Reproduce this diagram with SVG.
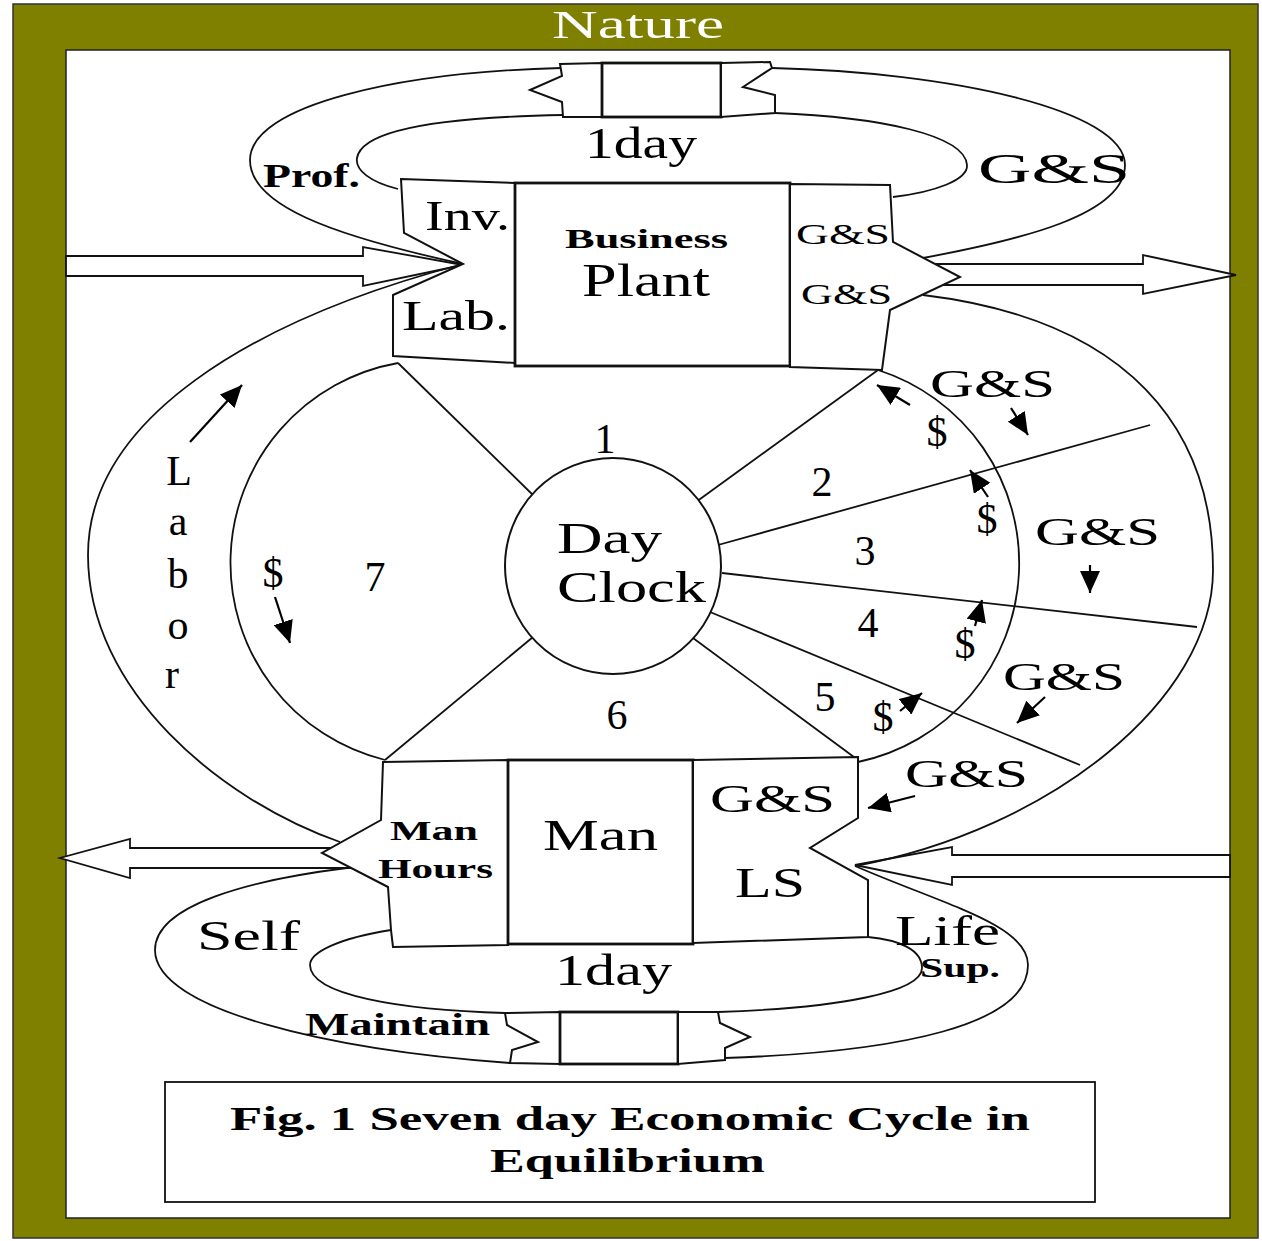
<svg xmlns="http://www.w3.org/2000/svg" width="1262" height="1241" viewBox="0 0 1262 1241">
<defs>
<style>
.ln{fill:none;stroke:#111;stroke-width:1.8}
.bx{fill:#fff;stroke:#111;stroke-width:2}
.bxb{fill:#fff;stroke:#111;stroke-width:2.8}
.ar{fill:#fff;stroke:#111;stroke-width:1.8}
.t{font-family:"Liberation Serif","Times New Roman",serif;fill:#000}
.b{font-weight:bold}
.sa{fill:none;stroke:#000;stroke-width:2.2;marker-end:url(#ah)}
</style>
<marker id="ah" markerUnits="userSpaceOnUse" markerWidth="24" markerHeight="20" refX="22" refY="10" orient="auto">
<path d="M0,0 L22,10 L0,20 Z" fill="#000"/>
</marker>
</defs>
<rect x="0" y="0" width="1262" height="1241" fill="#fff"/>
<rect x="13" y="4" width="1245" height="1234" fill="#808000" stroke="#333" stroke-width="1.5"/>
<rect x="66" y="50" width="1164" height="1168" fill="#fff" stroke="#222" stroke-width="1.5"/>
<text class="t" x="552" y="38" font-size="40" fill="#fff" style="fill:#fff" textLength="172" lengthAdjust="spacingAndGlyphs">Nature</text>

<g id="flows">
<polygon class="ar" points="66,256 363,256 363,247 463,265 363,286 363,276 66,276"/>
<polygon class="ar" points="920,264 1143,264 1143,255 1236,275 1143,294 1143,285 920,285"/>
<polygon class="ar" points="350,848 130,848 130,839 60,858 130,878 130,868 350,868"/>
<polygon class="ar" points="1230,855 952,855 952,847 855,865 952,885 952,877 1230,877"/>
</g>

<g id="connectors">
<path class="ln" d="M463,264 C330,235 250,205 250,160 C250,105 400,72 561,68"/>
<path class="ln" d="M772,68 C950,72 1125,110 1125,165 C1125,215 1020,240 923,258"/>
<path class="ln" d="M398,189 C370,182 355,170 357,158 C362,128 450,117 563,115"/>
<path class="ln" d="M775,113 C880,117 965,135 967,165 C968,180 935,192 893,197"/>
<path class="ln" d="M347,868 C250,880 155,905 155,950 C155,1010 330,1050 510,1063"/>
<path class="ln" d="M391,930 C340,938 310,952 310,965 C310,995 400,1010 505,1013"/>
<path class="ln" d="M718,1012 C840,1008 922,992 922,968 C922,950 900,940 868,937"/>
<path class="ln" d="M855,866 C945,905 1028,925 1028,965 C1028,1025 900,1052 725,1058"/>
<path class="ln" d="M463,264 C250,320 88,420 88,555 C88,690 220,800 340,842"/>
<path class="ln" d="M923,295 C1130,320 1213,430 1213,570 C1213,700 1050,830 855,866"/>
<path class="ln" d="M398,363 A203,203 0 0 0 385,760"/>
<path class="ln" d="M878,370 A203,203 0 0 1 858,762"/>
<line class="ln" x1="398" y1="363" x2="536" y2="498"/>
<line class="ln" x1="878" y1="370" x2="696" y2="502"/>
<line class="ln" x1="1150" y1="425" x2="718" y2="545"/>
<line class="ln" x1="1197" y1="627" x2="722" y2="573"/>
<line class="ln" x1="1080" y1="765" x2="710" y2="612"/>
<line class="ln" x1="858" y1="760" x2="693" y2="638"/>
<line class="ln" x1="385" y1="760" x2="533" y2="637"/>
<line class="sa" x1="190" y1="442" x2="242" y2="385"/>
<line class="sa" x1="275" y1="597" x2="290" y2="643"/>
<line class="sa" x1="1011" y1="408" x2="1028" y2="435"/>
<line class="sa" x1="910" y1="405" x2="877" y2="385"/>
<line class="sa" x1="988" y1="497" x2="970" y2="470"/>
<line class="sa" x1="1090" y1="565" x2="1090" y2="593"/>
<line class="sa" x1="975" y1="626" x2="982" y2="600"/>
<line class="sa" x1="1045" y1="697" x2="1017" y2="723"/>
<line class="sa" x1="900" y1="711" x2="922" y2="693"/>
<line class="sa" x1="915" y1="796" x2="868" y2="808"/>
</g>

<g id="top-chain">
<polygon class="bx" points="560,64 602,63 602,117 563,117 562,102 530,90 562,76"/>
<rect class="bxb" x="602" y="63" width="119" height="54"/>
<polygon class="bx" points="721,63 770,62 772,68 743,87 775,95 775,113 721,117"/>
</g>

<g id="bottom-chain">
<polygon class="bx" points="505,1013 560,1012 560,1064 510,1063 512,1050 538,1042 507,1025"/>
<rect class="bxb" x="560" y="1012" width="118" height="52"/>
<polygon class="bx" points="678,1012 718,1012 720,1023 750,1037 725,1048 725,1060 678,1064"/>
</g>

<g id="business-plant">
<polygon class="bx" points="401,179 515,183 515,363 393,356 393,295 463,264 404,233"/>
<rect class="bxb" x="515" y="183" width="275" height="183"/>
<polygon class="bx" points="790,184 890,185 893,242 960,277 890,310 882,370 790,367"/>
<text class="t" x="425" y="230" font-size="42" textLength="85" lengthAdjust="spacingAndGlyphs">Inv.</text>
<text class="t" x="402" y="330" font-size="42" textLength="108" lengthAdjust="spacingAndGlyphs">Lab.</text>
<text class="t b" x="565" y="248" font-size="28" textLength="163" lengthAdjust="spacingAndGlyphs">Business</text>
<text class="t" x="582" y="296" font-size="46" textLength="128" lengthAdjust="spacingAndGlyphs">Plant</text>
<text class="t" x="796" y="244" font-size="30" textLength="94" lengthAdjust="spacingAndGlyphs">G&amp;S</text>
<text class="t" x="801" y="304" font-size="30" textLength="91" lengthAdjust="spacingAndGlyphs">G&amp;S</text>
</g>

<g id="man">
<polygon class="bx" points="383,762 508,760 508,945 393,947 391,930 388,887 322,853 381,820"/>
<rect class="bxb" x="508" y="760" width="185" height="184"/>
<polygon class="bx" points="693,760 858,757 858,818 810,848 868,880 868,937 693,943"/>
<text class="t b" x="390" y="840" font-size="28" textLength="88" lengthAdjust="spacingAndGlyphs">Man</text>
<text class="t b" x="378" y="878" font-size="28" textLength="115" lengthAdjust="spacingAndGlyphs">Hours</text>
<text class="t" x="543" y="850" font-size="44" textLength="115" lengthAdjust="spacingAndGlyphs">Man</text>
<text class="t" x="710" y="812" font-size="40" textLength="125" lengthAdjust="spacingAndGlyphs">G&amp;S</text>
<text class="t" x="735" y="897" font-size="42" textLength="70" lengthAdjust="spacingAndGlyphs">LS</text>
</g>

<g id="day-clock">
<circle class="bx" cx="613" cy="566" r="108"/>
<text class="t" x="557" y="553" font-size="44" textLength="105" lengthAdjust="spacingAndGlyphs">Day</text>
<text class="t" x="557" y="602" font-size="44" textLength="149" lengthAdjust="spacingAndGlyphs">Clock</text>
</g>

<g id="labels">
<text class="t" x="585" y="158" font-size="44" textLength="112" lengthAdjust="spacingAndGlyphs">1day</text>
<text class="t b" x="263" y="187" font-size="34" textLength="97" lengthAdjust="spacingAndGlyphs">Prof.</text>
<text class="t" x="978" y="183" font-size="42" textLength="152" lengthAdjust="spacingAndGlyphs">G&amp;S</text>
<g font-size="42" text-anchor="middle">
<text class="t" x="605" y="453">1</text>
<text class="t" x="822" y="496">2</text>
<text class="t" x="865" y="565">3</text>
<text class="t" x="868" y="637">4</text>
<text class="t" x="825" y="711">5</text>
<text class="t" x="617" y="729">6</text>
<text class="t" x="375" y="591">7</text>
</g>
<g font-size="42" text-anchor="middle">
<text class="t" x="179" y="485">L</text>
<text class="t" x="178" y="535">a</text>
<text class="t" x="178" y="588">b</text>
<text class="t" x="178" y="639">o</text>
<text class="t" x="172" y="688">r</text>
</g>
<g font-size="42" text-anchor="middle">
<text class="t" x="273" y="587">$</text>
<text class="t" x="937" y="446">$</text>
<text class="t" x="987" y="533">$</text>
<text class="t" x="965" y="658">$</text>
<text class="t" x="883" y="731">$</text>
</g>
<text class="t" x="930" y="397" font-size="40" textLength="125" lengthAdjust="spacingAndGlyphs">G&amp;S</text>
<text class="t" x="1035" y="545" font-size="40" textLength="125" lengthAdjust="spacingAndGlyphs">G&amp;S</text>
<text class="t" x="1003" y="690" font-size="40" textLength="122" lengthAdjust="spacingAndGlyphs">G&amp;S</text>
<text class="t" x="905" y="787" font-size="40" textLength="123" lengthAdjust="spacingAndGlyphs">G&amp;S</text>
<text class="t" x="197" y="950" font-size="42" textLength="103" lengthAdjust="spacingAndGlyphs">Self</text>
<text class="t" x="555" y="985" font-size="44" textLength="117" lengthAdjust="spacingAndGlyphs">1day</text>
<text class="t" x="895" y="945" font-size="42" textLength="105" lengthAdjust="spacingAndGlyphs">Life</text>
<text class="t b" x="920" y="977" font-size="28" textLength="80" lengthAdjust="spacingAndGlyphs">Sup.</text>
<text class="t b" x="305" y="1035" font-size="32" textLength="185" lengthAdjust="spacingAndGlyphs">Maintain</text>
</g>

<g id="caption">
<rect x="165" y="1082" width="930" height="120" fill="#fff" stroke="#111" stroke-width="1.8"/>
<text class="t b" x="230" y="1130" font-size="34" textLength="800" lengthAdjust="spacingAndGlyphs">Fig. 1 Seven day Economic Cycle in</text>
<text class="t b" x="490" y="1172" font-size="34" textLength="275" lengthAdjust="spacingAndGlyphs">Equilibrium</text>
</g>
</svg>
